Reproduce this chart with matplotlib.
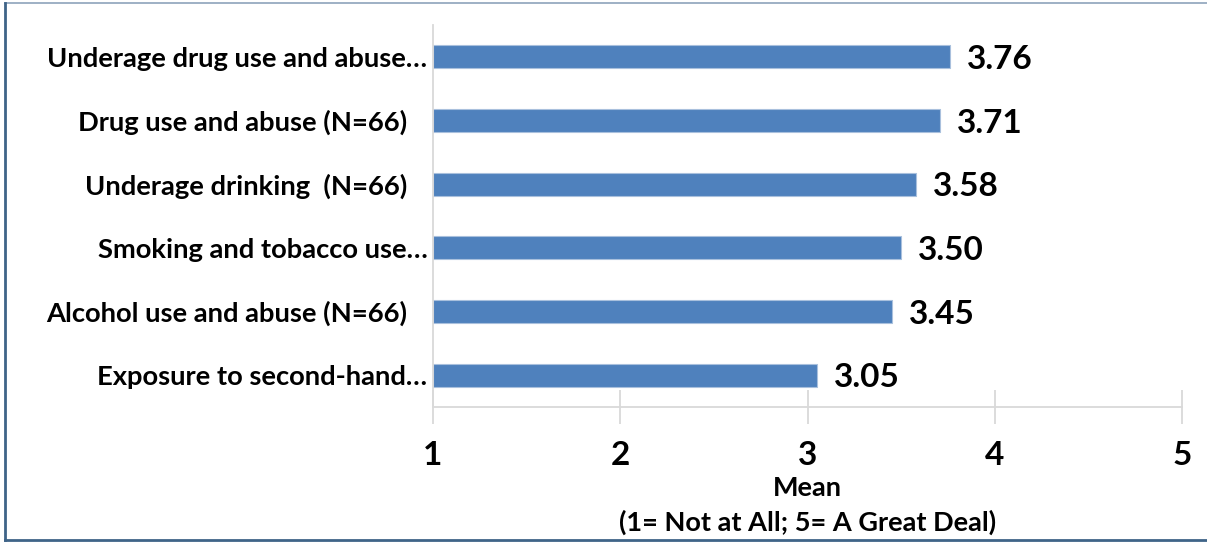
import matplotlib.pyplot as plt
from matplotlib.lines import Line2D

plt.rcParams['font.family'] = ['Lato', 'DejaVu Sans']

categories = ['Underage drug use and abuse\u2026',
              'Drug use and abuse (N=66)   ',
              'Underage drinking  (N=66)   ',
              'Smoking and tobacco use\u2026',
              'Alcohol use and abuse (N=66)   ',
              'Exposure to second-hand\u2026']
means = [3.76, 3.71, 3.58, 3.50, 3.45, 3.05]
xticks = [1, 2, 3, 4, 5]

fig = plt.figure(figsize=(12.07, 5.42), dpi=100)
ax = fig.add_axes([433 / 1207, 1 - 407 / 542, (1182 - 433) / 1207, (407 - 25) / 542])

ypos = list(range(len(categories)))
ax.barh(ypos, [m - 1 for m in means], left=1, height=0.36,
        color='#4F81BD', edgecolor='#a9c0dd', linewidth=0.8)
for y, m in zip(ypos, means):
    ax.text(m + 0.09, y + 0.04, '%.2f' % m, va='center', ha='left',
            fontsize=24, fontweight='bold')

ax.set_xlim(1, 5)
ax.set_ylim(len(categories) - 0.5, -0.5)
ax.set_yticks(ypos)
ax.set_yticklabels(categories, fontsize=19.75, fontweight='bold')
ax.tick_params(axis='y', length=0, pad=4)
ax.set_xticks(xticks)
ax.set_xticklabels([str(t) for t in xticks], fontsize=24, fontweight='bold')
ax.tick_params(axis='x', direction='inout', length=25, width=1.3,
               color='#d9d9d9', pad=12)
for s in ['top', 'right']:
    ax.spines[s].set_visible(False)
for s in ['left', 'bottom']:
    ax.spines[s].set_color('#d9d9d9')
    ax.spines[s].set_linewidth(1.3)

ax.set_xlabel('Mean\n(1= Not at All; 5= A Great Deal)', fontsize=19.5,
              fontweight='bold', labelpad=4, linespacing=1.5)

# frame around the picture
fig.add_artist(Line2D([5 / 1207, 1], [1 - 3 / 542, 1 - 3 / 542],
                      color='#8da3bb', lw=1.2, transform=fig.transFigure))
fig.add_artist(Line2D([5 / 1207, 5 / 1207], [1 - 540 / 542, 1 - 3 / 542],
                      color='#3f6488', lw=2, transform=fig.transFigure))
fig.add_artist(Line2D([5 / 1207, 1], [1 - 540 / 542, 1 - 540 / 542],
                      color='#3f6488', lw=2, transform=fig.transFigure))

fig.savefig('out.png', dpi=100)
